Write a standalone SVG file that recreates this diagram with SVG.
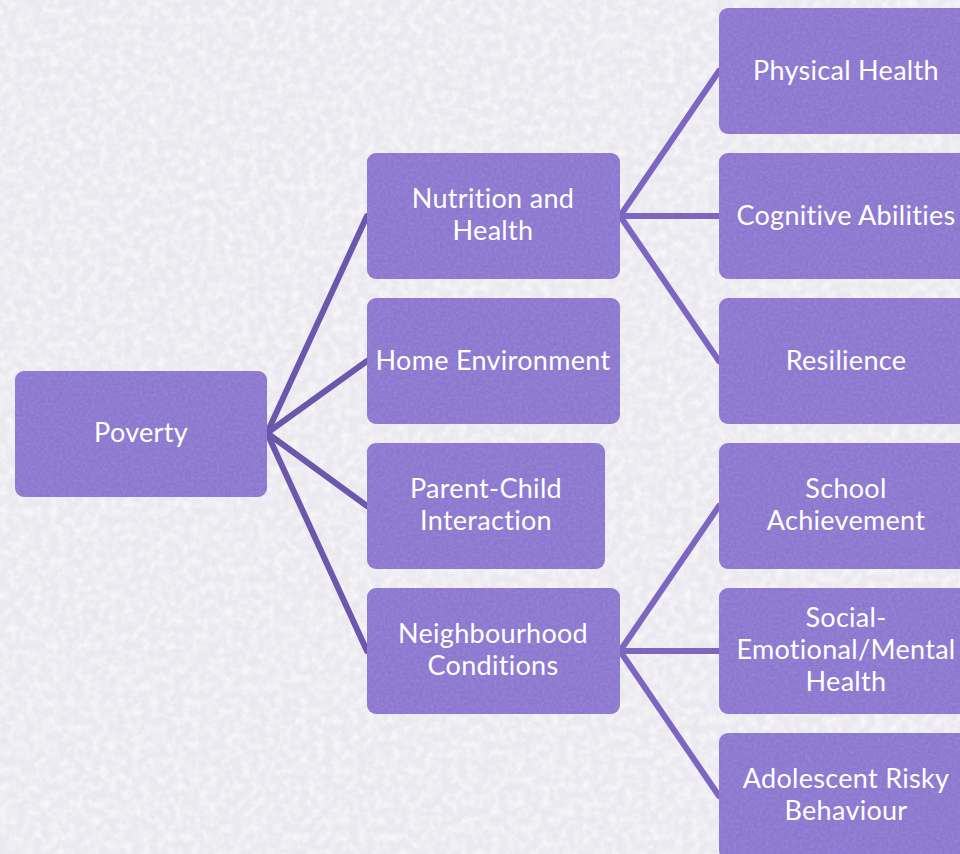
<svg xmlns="http://www.w3.org/2000/svg" width="960" height="854" viewBox="0 0 960 854">
<defs>
<filter id="tex" x="0" y="0" width="100%" height="100%">
<feTurbulence type="fractalNoise" baseFrequency="0.35" numOctaves="2" seed="3" result="n"/>
<feColorMatrix in="n" type="matrix" values="0 0 0 0 0.35  0 0 0 0 0.28  0 0 0 0 0.6  0 0 0 1.1 -0.4" result="c"/>
<feComposite in="c" in2="SourceGraphic" operator="in" result="m"/>
<feMerge><feMergeNode in="SourceGraphic"/><feMergeNode in="m"/></feMerge>
</filter>
<filter id="bgtex" x="0" y="0" width="100%" height="100%">
<feTurbulence type="fractalNoise" baseFrequency="0.12" numOctaves="3" seed="7" result="n"/>
<feColorMatrix in="n" type="matrix" values="0 0 0 0 1  0 0 0 0 1  0 0 0 0 1  0 0 0 1.2 -0.45" result="c"/>
<feComposite in="c" in2="SourceGraphic" operator="in" result="m"/>
<feMerge><feMergeNode in="SourceGraphic"/><feMergeNode in="m"/></feMerge>
</filter>
</defs>
<style>
.box{fill:#8c78d2;filter:url(#tex)}
.t{font-family:Lato,"Open Sans","Liberation Sans",sans-serif;font-size:27px;letter-spacing:0.3px;font-variant-ligatures:none;fill:#ffffff;text-anchor:middle}
.c1{stroke:#6b58ad;stroke-width:6;stroke-linecap:round;fill:none}
.c2{stroke:#7d66c0;stroke-width:6;stroke-linecap:round;fill:none}
</style>
<rect x="0" y="0" width="960" height="854" fill="#ebe9f0" filter="url(#bgtex)"/>
<g id="connectors">
<line class="c1" x1="267" y1="433" x2="367" y2="216"/>
<line class="c1" x1="267" y1="433" x2="367" y2="361"/>
<line class="c1" x1="267" y1="433" x2="367" y2="506"/>
<line class="c1" x1="267" y1="433" x2="367" y2="651"/>
<line class="c2" x1="620" y1="216" x2="719" y2="71"/>
<line class="c2" x1="620" y1="216" x2="719" y2="216"/>
<line class="c2" x1="620" y1="216" x2="719" y2="361"/>
<line class="c2" x1="620" y1="651" x2="719" y2="506"/>
<line class="c2" x1="620" y1="651" x2="719" y2="651"/>
<line class="c2" x1="620" y1="651" x2="719" y2="796"/>
</g>
<g id="poverty"><rect class="box" x="15" y="371" width="252" height="126" rx="9"/><text class="t" x="141" y="442">Poverty</text></g>
<g id="nutrition"><rect class="box" x="367" y="153" width="253" height="126" rx="9"/><text class="t" x="493" y="208">Nutrition and</text><text class="t" x="493" y="240">Health</text></g>
<g id="home"><rect class="box" x="367" y="298" width="253" height="126" rx="9"/><text class="t" x="493" y="370">Home Environment</text></g>
<g id="parentchild"><rect class="box" x="367" y="443" width="238" height="126" rx="9"/><text class="t" x="486" y="498">Parent-Child</text><text class="t" x="486" y="530">Interaction</text></g>
<g id="neighbourhood"><rect class="box" x="367" y="588" width="253" height="126" rx="9"/><text class="t" x="493" y="643">Neighbourhood</text><text class="t" x="493" y="675">Conditions</text></g>
<g id="physical"><rect class="box" x="719" y="8" width="260" height="126" rx="9"/><text class="t" x="846" y="80">Physical Health</text></g>
<g id="cognitive"><rect class="box" x="719" y="153" width="260" height="126" rx="9"/><text class="t" x="846" y="225">Cognitive Abilities</text></g>
<g id="resilience"><rect class="box" x="719" y="298" width="260" height="126" rx="9"/><text class="t" x="846" y="370">Resilience</text></g>
<g id="school"><rect class="box" x="719" y="443" width="260" height="126" rx="9"/><text class="t" x="846" y="498">School</text><text class="t" x="846" y="530">Achievement</text></g>
<g id="social"><rect class="box" x="719" y="588" width="260" height="126" rx="9"/><text class="t" x="846" y="627">Social-</text><text class="t" x="846" y="659">Emotional/Mental</text><text class="t" x="846" y="691">Health</text></g>
<g id="adolescent"><rect class="box" x="719" y="733" width="260" height="126" rx="9"/><text class="t" x="846" y="788">Adolescent Risky</text><text class="t" x="846" y="820">Behaviour</text></g>
</svg>
